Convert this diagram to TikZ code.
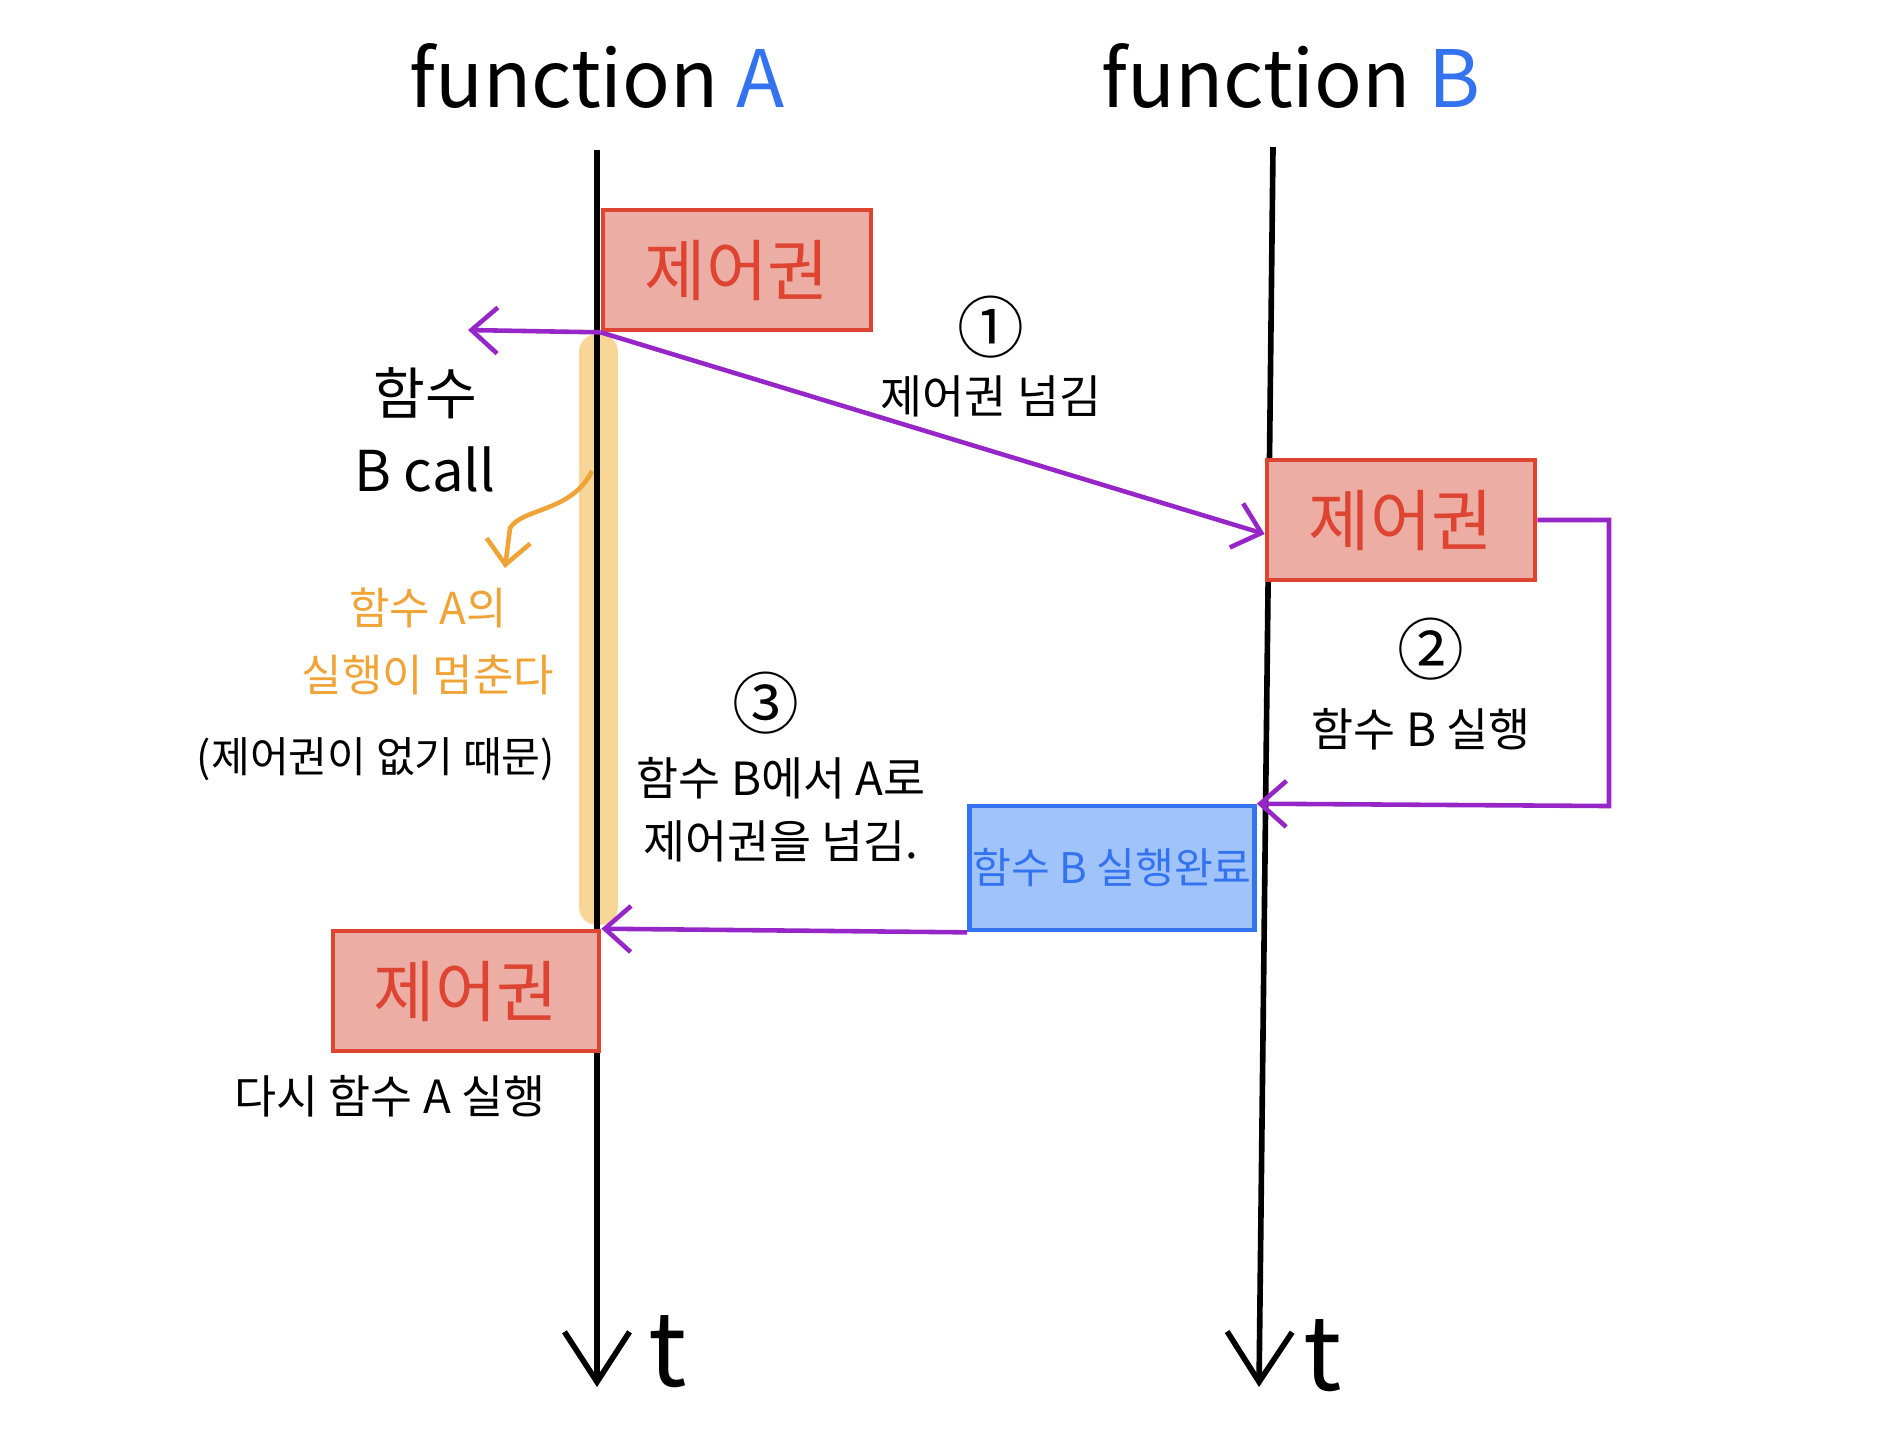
\documentclass[tikz,border=0pt]{standalone}
\usepackage{fontspec}
\setmainfont{Noto Sans CJK KR}
\usetikzlibrary{arrows.meta,calc}
\definecolor{ctrlred}{RGB}{221,68,50}
\definecolor{ctrlfill}{RGB}{236,174,164}
\definecolor{doneblue}{RGB}{52,115,240}
\definecolor{donefill}{RGB}{160,195,250}
\definecolor{passpurple}{RGB}{150,38,200}
\definecolor{stopnote}{RGB}{240,163,55}
\definecolor{stopfill}{RGB}{247,214,152}

\tikzset{
  timeline/.style={line width=1.6pt,-{Straight Barb[length=5mm,width=6.5mm]}},
  ctrlbox/.style={draw=ctrlred,fill=ctrlfill,line width=1.3pt,inner sep=0pt,
    minimum width=2.68cm,minimum height=1.2cm,text=ctrlred,font=\fontsize{19}{22}\selectfont},
  donebox/.style={draw=doneblue,fill=donefill,line width=1.3pt,inner sep=0pt,
    minimum width=2.85cm,minimum height=1.24cm,text=doneblue,font=\fontsize{12}{15}\selectfont},
  pass/.style={passpurple,line width=1.3pt,-{Straight Barb[length=2.6mm,width=4.6mm]}},
  note/.style={inner sep=1pt,align=center,font=\fontsize{13}{18}\selectfont},
  stepno/.style={inner sep=0pt,font=\fontsize{19}{22}\selectfont},
  title/.style={inner sep=0pt,font=\fontsize{22.5}{27}\selectfont},
}

\begin{document}
\begin{tikzpicture}[x=0.01cm,y=-0.01cm]
  \useasboundingbox (0,0) rectangle (1883,1432);

  % titles
  \node[title] (titlea) at (597,76) {function \textcolor{doneblue}{A}};
  \node[title] (titleb) at (1291,76) {function \textcolor{doneblue}{B}};

  % paused part of A
  \fill[stopfill,rounded corners=0.18cm] (579,334) rectangle (618,925);

  % time axes
  \coordinate (atop) at (597,150);
  \coordinate (abot) at (597,1387);
  \coordinate (btop) at (1273,147);
  \coordinate (bbot) at (1259,1387);
  \draw[timeline] (atop) -- (abot);
  \draw[timeline] (btop) -- (bbot);
  \node[title,font=\fontsize{29}{34}\selectfont] (ta) at (668,1352) {t};
  \node[title,font=\fontsize{29}{34}\selectfont] (tb) at (1323,1356) {t};

  % control boxes
  \node[ctrlbox] (ctrla) at (737,270) {제어권};
  \node[ctrlbox] (ctrlb) at (1401,520) {제어권};
  \node[ctrlbox,minimum width=2.66cm] (ctrlc) at (466,991) {제어권};
  \node[donebox] (done) at (1112,868) {함수 B 실행완료};

  % connectors
  \coordinate (callend) at (468,330);
  \coordinate (turn) at (1609,806);
  \draw[pass] (ctrla.south west) -- (callend);
  \draw[pass] (ctrla.south west) -- ($(ctrlb.west)+(0,14)$);
  \draw[pass] (ctrlb.east) -| (turn) -- (done.north east);
  \draw[pass] (done.south west) -- (ctrlc.north east);

  % A stops
  \coordinate (stopfrom) at (592,471);
  \coordinate (stopto) at (505,568);
  \draw[stopnote,line width=1.3pt,-{Straight Barb[length=2.4mm,width=4.4mm]}]
    (stopfrom) .. controls (572,512) and (522,508) .. (510,528) -- (stopto);

  % labels
  \node[note,font=\fontsize{16}{22}\selectfont] (call) at (425,430) {함수\\B call};
  \node[note,text=stopnote,font=\fontsize{12.5}{19}\selectfont] (stop) at (428,641) {함수 A의\\실행이 멈춘다};
  \node[note,font=\fontsize{12}{16}\selectfont] (why) at (376,759) {(제어권이 없기 때문)};
  \node[stepno] (one) at (991,327) {①};
  \node[note] (give) at (991,396) {제어권 넘김};
  \node[stepno] (two) at (1431,649) {②};
  \node[note] (run) at (1421,729) {함수 B 실행};
  \node[stepno] (three) at (766,703) {③};
  \node[note] (back) at (781,810) {함수 B에서 A로\\제어권을 넘김.};
  \node[note] (again) at (390,1096) {다시 함수 A 실행};
\end{tikzpicture}
\end{document}
